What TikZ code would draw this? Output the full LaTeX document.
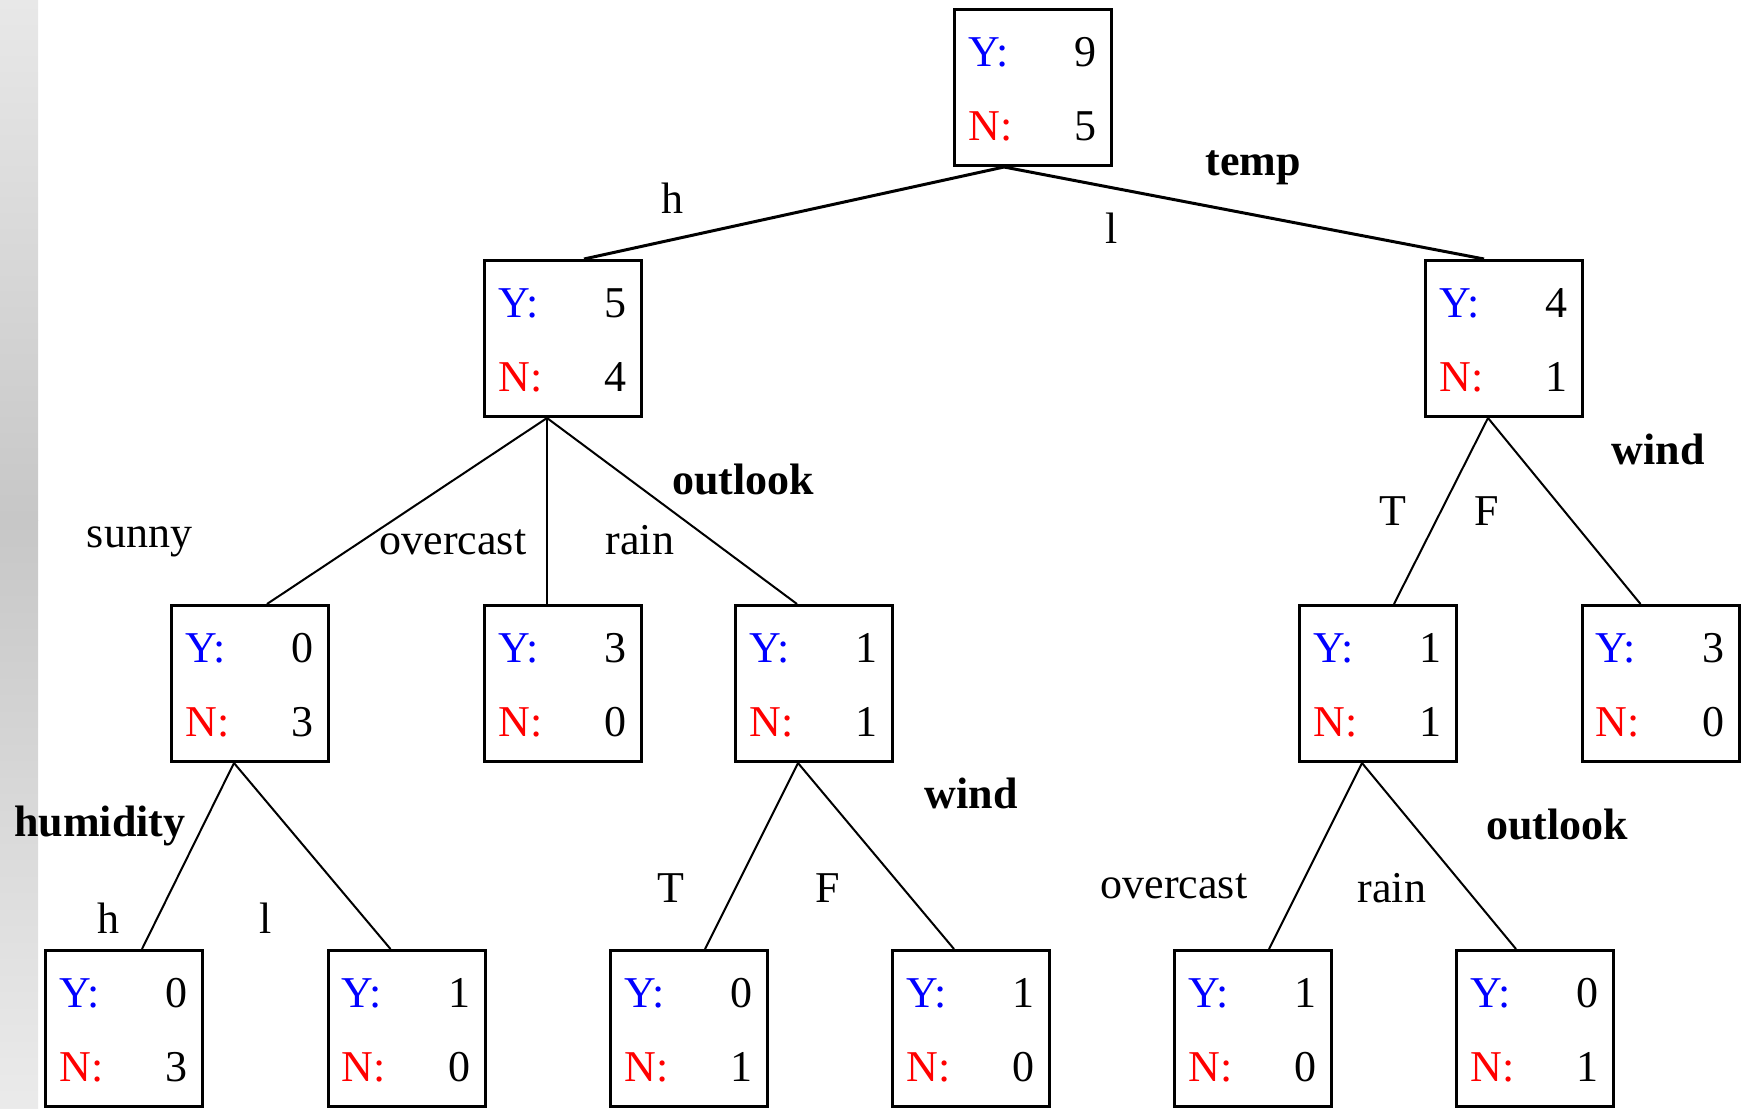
\documentclass[tikz,border=0pt]{standalone}
\usepackage{fontspec}
\setmainfont{Liberation Serif}
\usetikzlibrary{calc}

% Units: one unit = 0.5pt, y grows downwards
\tikzset{
  x=0.5pt, y=-0.5pt,
  statbox/.style={draw, line width=1.5pt, minimum width=78.5pt, minimum height=78pt, inner sep=0pt},
  celltext/.style={inner sep=0pt, font=\fontsize{22}{26}\selectfont},
  ytag/.style={celltext, text=blue, anchor=base west},
  ntag/.style={celltext, text=red, anchor=base west},
  count/.style={celltext, anchor=base east},
  branch/.style={inner sep=0pt, anchor=base, font=\fontsize{22}{26}\selectfont},
  attr/.style={inner sep=0pt, anchor=base, font=\fontsize{22}{26}\selectfont\bfseries},
  edge/.style={line width=1pt},
  topedge/.style={line width=1.5pt},
}

% \statnode{name}{cx}{cy}{yes}{no}
\newcommand{\statnode}[5]{%
  \node[statbox] (#1) at (#2,#3) {};
  \node[ytag]  (#1-yt) at ($(#1.center)+(-65,-21)$) {Y:};
  \node[count] (#1-yc) at ($(#1.center)+(64,-21)$) {#4};
  \node[ntag]  (#1-nt) at ($(#1.center)+(-65,53)$) {N:};
  \node[count] (#1-nc) at ($(#1.center)+(64,53)$) {#5};
}

\begin{document}
\begin{tikzpicture}
\useasboundingbox (0,0) rectangle (1747,1109);

% shaded side band
\shade[top color=black!9, bottom color=black!22] (0,0) rectangle (38,520);
\shade[top color=black!22, bottom color=black!8] (0,520) rectangle (38,1109);

% boxes
\statnode{root}{1033}{87.5}{9}{5}
\statnode{th}{563}{338.5}{5}{4}
\statnode{tl}{1504}{338.5}{4}{1}
\statnode{sunny}{250}{683.5}{0}{3}
\statnode{over}{563}{683.5}{3}{0}
\statnode{rain}{814}{683.5}{1}{1}
\statnode{wt}{1378}{683.5}{1}{1}
\statnode{wf}{1660.5}{683.5}{3}{0}
\statnode{hh}{124}{1028.5}{0}{3}
\statnode{hl}{406.5}{1028.5}{1}{0}
\statnode{rt}{689}{1028.5}{0}{1}
\statnode{rf}{971}{1028.5}{1}{0}
\statnode{oo}{1253}{1028.5}{1}{0}
\statnode{or}{1535}{1028.5}{0}{1}

% connectors
\draw[topedge] ($(root.south)+(-29,0)$) -- ($(th.north)+(21,0)$);
\draw[topedge] ($(root.south)+(-29,0)$) -- ($(tl.north)+(-20,0)$);

\draw[edge] ($(th.south)+(-16,0)$) -- ($(sunny.north)+(17,0)$);
\draw[edge] ($(th.south)+(-16,0)$) -- ($(over.north)+(-16,0)$);
\draw[edge] ($(th.south)+(-16,0)$) -- ($(rain.north)+(-17,0)$);

\draw[edge] ($(tl.south)+(-16,0)$) -- ($(wt.north)+(16,0)$);
\draw[edge] ($(tl.south)+(-16,0)$) -- ($(wf.north)+(-20,0)$);

\draw[edge] ($(sunny.south)+(-16,0)$) -- ($(hh.north)+(18,0)$);
\draw[edge] ($(sunny.south)+(-16,0)$) -- ($(hl.north)+(-16,0)$);

\draw[edge] ($(rain.south)+(-16,0)$) -- ($(rt.north)+(16,0)$);
\draw[edge] ($(rain.south)+(-16,0)$) -- ($(rf.north)+(-17,0)$);

\draw[edge] ($(wt.south)+(-16,0)$) -- ($(oo.north)+(16,0)$);
\draw[edge] ($(wt.south)+(-16,0)$) -- ($(or.north)+(-19,0)$);

% attribute names and branch values
\node[attr] (a-temp) at (1253,175) {temp};
\node[branch] (b-h1) at (672,213) {h};
\node[branch] (b-l1) at (1112,243) {l};

\node[attr] (a-out1) at (743,494) {outlook};
\node[branch] (b-sunny) at (139.5,547) {sunny};
\node[branch] (b-over1) at (453,554) {overcast};
\node[branch] (b-rain1) at (640,554) {rain};

\node[attr] (a-wind1) at (1658,464) {wind};
\node[branch] (b-t1) at (1393,525) {T};
\node[branch] (b-f1) at (1487,525) {F};

\node[attr] (a-hum) at (100,836) {humidity};
\node[branch] (b-h2) at (108,933) {h};
\node[branch] (b-l2) at (266,933) {l};

\node[attr] (a-wind2) at (971,808) {wind};
\node[branch] (b-t2) at (671,902) {T};
\node[branch] (b-f2) at (828,902) {F};

\node[attr] (a-out2) at (1557,839) {outlook};
\node[branch] (b-over2) at (1174,898) {overcast};
\node[branch] (b-rain2) at (1392,902) {rain};
\end{tikzpicture}
\end{document}
